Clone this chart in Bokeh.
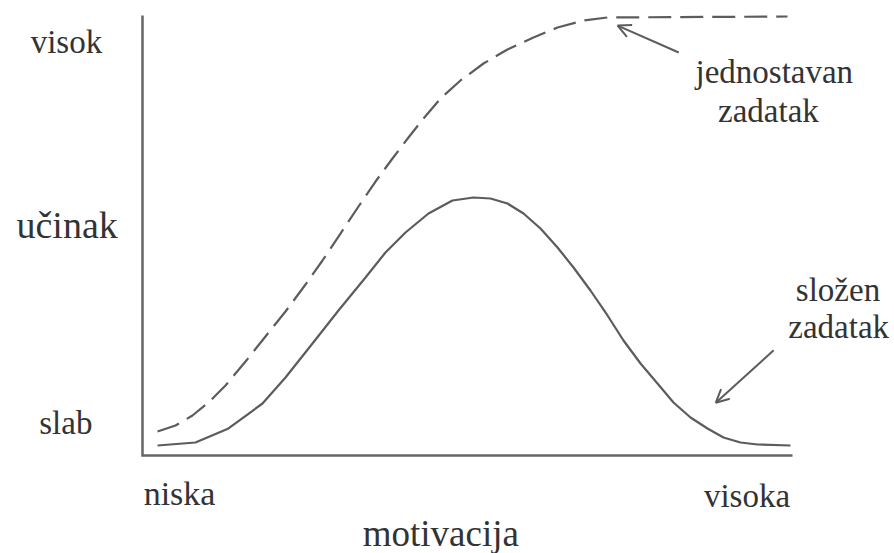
from bokeh.plotting import figure
from bokeh.models import Range1d, Label, Arrow, OpenHead
from bokeh.embed import file_html
from bokeh.resources import INLINE

# motivation (0..100) vs performance (0..100)
easy_x = [2.31, 5.08, 7.69, 10.15, 12.77, 15.85, 18.92, 22.0, 25.08, 27.69, 30.46, 33.23, 35.85,
          38.46, 40.92, 43.23, 45.85, 48.92, 52.46, 56.15, 60.15, 63.85, 67.85, 71.54, 99.23]
easy_y = [5.45, 6.82, 9.09, 12.05, 15.91, 21.36, 27.05, 32.73, 38.86, 44.32, 50.45, 56.59, 62.27,
          67.5, 72.27, 76.59, 81.14, 85.23, 89.09, 92.27, 95.0, 97.27, 98.86, 99.55, 99.77]

hard_x = [2.31, 8.15, 13.23, 18.46, 22.0, 26.15, 30.15, 34.31, 37.38, 40.46, 44.0, 47.69, 50.92,
          53.54, 56.15, 58.62, 61.23, 63.85, 66.31, 68.92, 71.54, 74.0, 76.62, 79.23, 81.69,
          84.31, 86.92, 89.38, 92.0, 94.62, 99.69]
hard_y = [2.27, 2.95, 6.14, 11.82, 17.73, 25.45, 32.95, 40.45, 46.14, 50.68, 55.0, 57.95, 58.64,
          58.41, 57.27, 55.0, 51.59, 47.27, 42.73, 37.5, 31.82, 26.14, 20.91, 16.36, 12.05,
          8.64, 6.14, 4.09, 2.95, 2.5, 2.27]

# the two axes (motivation / performance), from origin
axis_x = [0, 0, 100]
axis_y = [100, 0, 0]

y_labels = ["visok", "učinak", "slab"]
x_labels = ["niska", "visoka"]
x_title = "motivacija"
easy_label = ["jednostavan", "zadatak"]
hard_label = ["složen", "zadatak"]

FONT = "Liberation Serif"
TXT = "#333333"
LINE = "#5c5c5c"

p = figure(width=894, height=553, output_backend="svg", toolbar_location=None,
           x_range=Range1d(-21.846, 115.692), y_range=Range1d(-22.273, 103.409),
           x_axis_location=None, y_axis_location=None, min_border=0)
p.outline_line_color = None
p.grid.visible = False

p.line(axis_x, axis_y, line_color="#666666", line_width=2.5, line_join="miter")
p.line(easy_x, easy_y, line_color=LINE, line_width=2.2, line_dash="23 9")
p.line(hard_x, hard_y, line_color=LINE, line_width=2.2)

p.add_layout(Arrow(end=OpenHead(size=13, line_color=LINE, line_width=2),
                   x_start=82.5, y_start=91.6, x_end=73.1, y_end=97.7,
                   line_color=LINE, line_width=2))
p.add_layout(Arrow(end=OpenHead(size=13, line_color=LINE, line_width=2),
                   x_start=97.1, y_start=23.9, x_end=88.2, y_end=12.0,
                   line_color=LINE, line_width=2))

DY = 2.3

def lab(txt, x, y, size):
    p.add_layout(Label(x=x, y=y + DY, text=txt, text_align="center", text_baseline="alphabetic",
                       text_font=FONT, text_font_size=f"{size}px", text_color=TXT))

lab(y_labels[0], -11.7, 91.6, 33)
lab(y_labels[1], -11.6, 50.0, 38)
lab(y_labels[2], -11.8, 5.0, 33)
lab(x_labels[0], 5.7, -10.9, 34)
lab(x_labels[1], 93.0, -11.4, 33)
lab(x_title, 45.9, -20.0, 37)
lab(easy_label[0], 97.2, 84.8, 33)
lab(easy_label[1], 96.3, 76.1, 33)
lab(hard_label[0], 107.0, 35.2, 33)
lab(hard_label[1], 107.1, 26.8, 33)

open("out.html", "w").write(file_html(p, INLINE))
